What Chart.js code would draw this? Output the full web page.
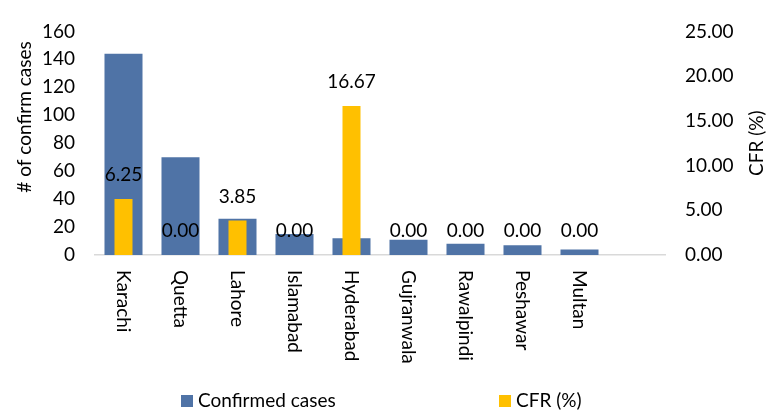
<!DOCTYPE html>
<html>
<head>
<meta charset="utf-8">
<script src="https://cdn.jsdelivr.net/npm/chart.js@4/dist/chart.umd.min.js"></script>
<style>
html,body{margin:0;padding:0;background:#fff;}
#wrap{width:766px;height:410px;position:relative;}
</style>
</head>
<body>
<div id="wrap"><canvas id="c" width="766" height="410"></canvas></div>
<script>
const categories = ['Karachi','Quetta','Lahore','Islamabad','Hyderabad','Gujranwala','Rawalpindi','Peshawar','Multan',''];
const confirmedCases = [144, 70, 26, 15, 12, 11, 8, 7, 4, null];
const cfrPercent = [6.25, 0.00, 3.85, 0.00, 16.67, 0.00, 0.00, 0.00, 0.00, null];
const leftTicks = [0, 20, 40, 60, 80, 100, 120, 140, 160];
const rightTicks = [0, 5, 10, 15, 20, 25];
const seriesNames = ['Confirmed cases', 'CFR (%)'];
const axisTitles = ['# of confirm cases', 'CFR (%)'];

const FONT = 'Lato, "Open Sans", sans-serif';
const FS = 19;
const BLUE = '#4F73A6';
const YELLOW = '#FFC000';

const customDraw = {
  id: 'customDraw',
  afterDatasetsDraw(chart) {
    const ctx = chart.ctx;
    ctx.save();
    ctx.fillStyle = '#000';
    ctx.font = FS + 'px ' + FONT;
    // CFR data labels
    const meta = chart.getDatasetMeta(1);
    meta.data.forEach((bar, i) => {
      const v = cfrPercent[i];
      if (v === null || v === undefined) return;
      ctx.textAlign = 'center';
      ctx.textBaseline = 'middle';
      ctx.fillText(v.toFixed(2), bar.x, bar.y - 24);
    });
    // x category labels, rotated top-to-bottom
    const xs = chart.scales.x;
    categories.forEach((lab, i) => {
      if (!lab) return;
      const x = xs.getPixelForValue(i);
      ctx.save();
      ctx.translate(x, xs.top + 15);
      ctx.rotate(Math.PI / 2);
      ctx.textAlign = 'left';
      ctx.textBaseline = 'middle';
      ctx.fillText(lab, 0, 0);
      ctx.restore();
    });
    // axis titles
    ctx.save();
    ctx.translate(25, 117);
    ctx.rotate(-Math.PI / 2);
    ctx.textAlign = 'center';
    ctx.textBaseline = 'middle';
    ctx.fillText(axisTitles[0], 0, 0);
    ctx.restore();
    const ry = chart.scales.y1;
    ctx.save();
    ctx.translate(757, (ry.top + ry.bottom) / 2);
    ctx.rotate(-Math.PI / 2);
    ctx.textAlign = 'center';
    ctx.textBaseline = 'middle';
    ctx.fillText(axisTitles[1], 0, 0);
    ctx.restore();
    // legend
    const items = [{x: 181, color: BLUE, text: seriesNames[0]}, {x: 499, color: YELLOW, text: seriesNames[1]}];
    items.forEach(it => {
      ctx.fillStyle = it.color;
      ctx.fillRect(it.x, 395, 12, 12);
      ctx.fillStyle = '#000';
      ctx.textAlign = 'left';
      ctx.textBaseline = 'middle';
      ctx.fillText(it.text, it.x + 17, 401);
    });
    ctx.restore();
  }
};

new Chart(document.getElementById('c'), {
  type: 'bar',
  data: {
    labels: categories,
    datasets: [
      {
        label: seriesNames[0],
        data: confirmedCases,
        yAxisID: 'y',
        backgroundColor: BLUE,
        barPercentage: 0.667,
        categoryPercentage: 1,
        grouped: false,
        order: 1
      },
      {
        label: seriesNames[1],
        data: cfrPercent,
        yAxisID: 'y1',
        backgroundColor: YELLOW,
        barPercentage: 0.316,
        categoryPercentage: 1,
        grouped: false,
        order: 0
      }
    ]
  },
  plugins: [customDraw],
  options: {
    responsive: false,
    animation: false,
    layout: {padding: {top: 23, bottom: 0, left: 0, right: 0}},
    plugins: {legend: {display: false}, tooltip: {enabled: false}},
    scales: {
      x: {
        grid: {display: false, drawTicks: false},
        border: {display: true, color: '#D9D9D9', width: 1.5},
        ticks: {display: false},
        afterFit(s) { s.height = 155; }
      },
      y: {
        position: 'left',
        min: 0, max: 160,
        afterBuildTicks(s) { s.ticks = leftTicks.map(v => ({value: v})); },
        grid: {display: false, drawTicks: false},
        border: {display: false},
        ticks: {color: '#000', padding: 20, font: {family: FONT, size: FS}},
        afterFit(s) { s.width = 95; }
      },
      y1: {
        position: 'right',
        min: 0, max: 25,
        afterBuildTicks(s) { s.ticks = rightTicks.map(v => ({value: v})); },
        grid: {display: false, drawTicks: false},
        border: {display: false},
        ticks: {color: '#000', padding: 20, font: {family: FONT, size: FS}, callback: v => Number(v).toFixed(2)},
        afterFit(s) { s.width = 101; }
      }
    }
  }
});
</script>
</body>
</html>
